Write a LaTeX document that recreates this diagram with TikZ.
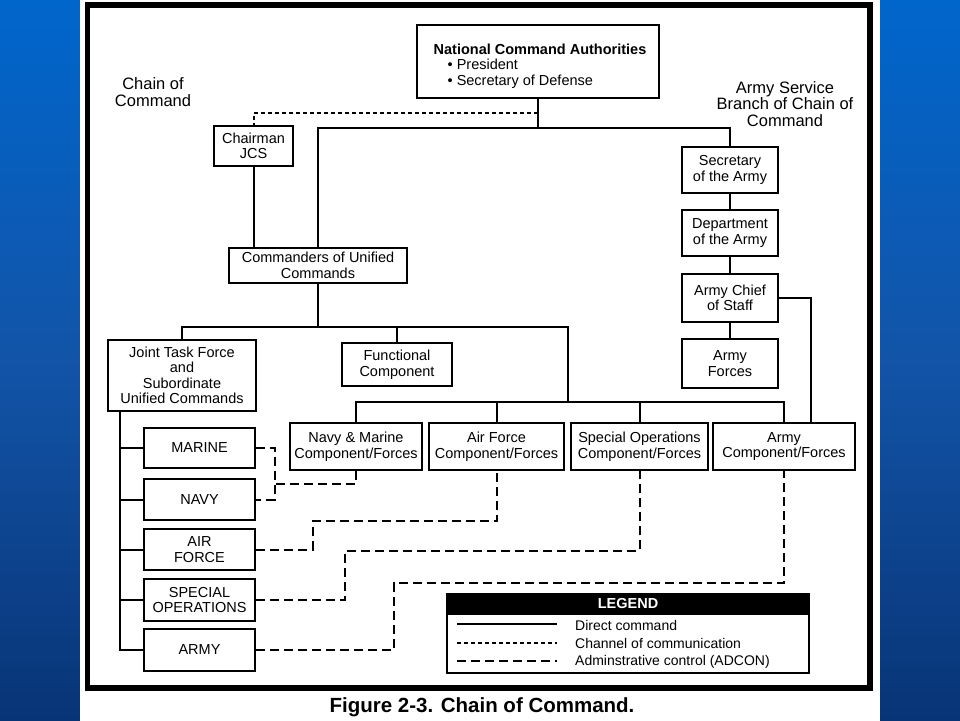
\documentclass[tikz,border=0pt]{standalone}
\usepackage{fontspec}
\setmainfont{Liberation Sans}
\newcommand\boxfont{\fontsize{14.5}{15.5}\selectfont}
\newcommand\lblfont{\fontsize{16.5}{16.5}\selectfont}
\newcommand\legfont{\fontsize{14}{15}\selectfont}
\newcommand\capfont{\fontsize{20.5}{22}\selectfont\bfseries}
\definecolor{bgtop}{RGB}{0,102,204}
\definecolor{bgmid}{RGB}{18,84,168}
\definecolor{bgbot}{RGB}{8,52,118}
\begin{document}
\begin{tikzpicture}[x=1pt,y=-1pt,
  box/.style={draw=black, line width=2.5pt, fill=white, align=center, font=\boxfont, inner sep=1pt},
  sz/.style 2 args={minimum width=#1, minimum height=#2},
  ln/.style={line width=2pt},
  chan/.style={line width=2pt, dash pattern=on 4pt off 3pt},
  adcon/.style={line width=2pt, dash pattern=on 9pt off 5pt},
  lbl/.style={align=center, font=\lblfont}]
\useasboundingbox (0,0) rectangle (960,720);
% background
\shade[top color=bgtop, bottom color=bgbot, middle color=bgmid] (-2,-2) rectangle (962,722);
\fill[white] (80,-2) rectangle (880,722);
\draw[line width=5.5pt] (87.5,5) rectangle (870,688);

% labels
\node[lbl] (coclabel) at (153,92) {Chain of\\Command};
\node[lbl] (asblabel) at (785,104) {Army Service\\Branch of Chain of\\Command};

% boxes
\node[box, sz={242}{73}] (nca) at (538,61.5) {};
\node[align=left, font=\boxfont, inner sep=0pt] (ncatext) at (540,66)
  {\textbf{National Command Authorities}\\\hspace*{14pt}\textbullet\ President\\\hspace*{14pt}\textbullet\ Secretary of Defense};
\node[box, sz={79}{40}] (cjcs) at (253.5,146) {Chairman\\JCS};
\node[box, sz={178}{35}] (cuc) at (318,265.5) {Commanders of Unified\\Commands};
\node[box, sz={96}{46}] (sec) at (730,170) {Secretary\\of the Army};
\node[box, sz={96}{46}] (dept) at (730,233) {Department\\of the Army};
\node[box, sz={96}{48}] (acos) at (730,298) {Army Chief\\of Staff};
\node[box, sz={96}{49}] (af) at (730,363.5) {Army\\Forces};
\node[box, sz={148}{71}] (jtf) at (182,375.5) {Joint Task Force\\and\\Subordinate\\Unified Commands};
\node[box, sz={110}{43}] (func) at (397,364.5) {Functional\\Component};
\node[box, sz={132}{47}] (nmc) at (356,446.5) {Navy \& Marine\\Component/Forces};
\node[box, sz={135}{47}] (afc) at (496.5,446.5) {Air Force\\Component/Forces};
\node[box, sz={137}{47}] (soc) at (639.5,446.5) {Special Operations\\Component/Forces};
\node[box, sz={142}{47}] (acf) at (784,446.5) {Army\\Component/Forces};
\node[box, sz={111}{40}] (marine) at (199.5,448) {MARINE};
\node[box, sz={111}{41}] (navy) at (199.5,499.5) {NAVY};
\node[box, sz={111}{41}] (airforce) at (199.5,549.5) {AIR\\FORCE};
\node[box, sz={111}{42}] (specops) at (199.5,600) {SPECIAL\\OPERATIONS};
\node[box, sz={111}{42}] (army) at (199.5,650) {ARMY};

% direct command
\coordinate (top) at (538,128);
\draw[ln] (nca.south) -- (top);
\draw[ln] (cuc.north) |- (top) -| (sec.north);
\draw[ln] (cjcs.south) -- (cjcs.south |- cuc.north);
\draw[ln] (sec.south) -- (dept.north);
\draw[ln] (dept.south) -- (acos.north);
\draw[ln] (acos.south) -- (af.north);
\draw[ln] (acos.east) -| ([xshift=27pt]acf.north);
\coordinate (b1) at (318,327);
\coordinate (b2) at (568,402);
\draw[ln] (cuc.south) -- (b1);
\draw[ln] (jtf.north) |- (b2 |- b1) -- (b2);
\draw[ln] (func.north) -- (func.north |- b1);
\draw[ln] (nmc.north) |- (acf.north |- b2) -- (acf.north);
\draw[ln] (afc.north) -- (afc.north |- b2);
\draw[ln] (soc.north) -- (soc.north |- b2);
\coordinate (lv) at (120,412);
\draw[ln] (lv) |- (army.west);
\draw[ln] (lv) |- (marine.west);
\draw[ln] (lv) |- (navy.west);
\draw[ln] (lv) |- (airforce.west);
\draw[ln] (lv) |- (specops.west);

% channel of communication
\coordinate (d1) at (538,113);
\draw[chan] (d1) -| (cjcs.north);

% ADCON
\coordinate (mv) at (275,475);
\coordinate (mj) at (275,484);
\draw[adcon] (marine.east) -| (mv) |- (navy.east);
\draw[adcon] (nmc.south) |- (mj);
\coordinate (k1) at (313,521);
\draw[adcon] (airforce.east) -| (k1) -| (afc.south);
\coordinate (k2) at (345,551);
\draw[adcon] (specops.east) -| (k2) -| (soc.south);
\coordinate (k3) at (394,583);
\draw[adcon] (army.east) -| (k3) -| (acf.south);

% legend
\node[draw, line width=2.5pt, fill=white, minimum width=362, minimum height=78, inner sep=0pt] (legend) at (628,634) {};
\node[fill=black, text=white, font=\fontsize{14.5}{15}\selectfont\bfseries, minimum width=363.5, minimum height=22, inner sep=0pt, anchor=north] (legendhead) at ([yshift=1.25pt]legend.north) {LEGEND};
\coordinate (l1a) at (457,624); \coordinate (l1b) at (557,624);
\coordinate (l2a) at (457,643); \coordinate (l2b) at (557,643);
\coordinate (l3a) at (457,661); \coordinate (l3b) at (557,661);
\draw[ln] (l1a) -- (l1b);
\draw[chan] (l2a) -- (l2b);
\draw[adcon] (l3a) -- (l3b);
\node[anchor=west, font=\legfont, inner sep=0pt] (lt1) at (575,625) {Direct command};
\node[anchor=west, font=\legfont, inner sep=0pt] (lt2) at (575,643.5) {Channel of communication};
\node[anchor=west, font=\legfont, inner sep=0pt] (lt3) at (575,662) {Adminstrative control (ADCON)};

% caption
\node[font=\capfont, inner sep=0pt] (caption) at (482,707) {Figure 2-3. Chain of Command.};
\end{tikzpicture}
\end{document}
